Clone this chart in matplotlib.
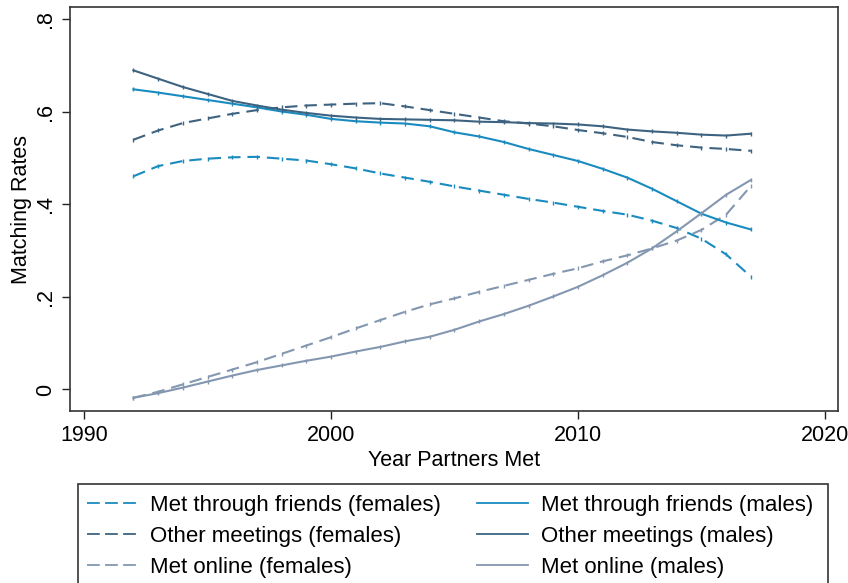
import matplotlib
matplotlib.use("Agg")
import matplotlib.pyplot as plt
from matplotlib.patches import Rectangle
from matplotlib.lines import Line2D

plt.rcParams['font.family'] = ['Liberation Sans', 'DejaVu Sans']
plt.rcParams['lines.scale_dashes'] = False

years = list(range(1992, 2018))

friends_f = [.461, .483, .494, .499, .502, .503, .499, .495, .487, .478, .467,
             .458, .449, .439, .430, .421, .412, .404, .395, .386, .378, .365,
             .349, .326, .292, .244]
friends_m = [.649, .642, .634, .626, .618, .610, .601, .594, .585, .580, .577,
             .575, .569, .556, .547, .535, .520, .507, .494, .477, .458, .434,
             .407, .380, .361, .346]
other_f = [.540, .560, .576, .586, .596, .604, .610, .614, .616, .618, .619,
           .612, .604, .596, .588, .580, .575, .569, .561, .554, .546, .535,
           .528, .523, .520, .516]
other_m = [.690, .672, .654, .639, .624, .614, .605, .598, .592, .588, .585,
           .584, .583, .582, .579, .578, .576, .575, .573, .569, .562, .558,
           .555, .551, .549, .553]
online_f = [-.018, -.005, .011, .027, .043, .059, .077, .095, .113, .132, .150,
            .168, .184, .197, .211, .224, .237, .250, .262, .277, .290, .305,
            .322, .345, .378, .440]
online_m = [-.018, -.008, .004, .017, .030, .042, .052, .062, .071, .082, .092,
            .104, .114, .129, .147, .163, .181, .201, .222, .247, .274, .305,
            .342, .381, .421, .453]

labels = ["Met through friends (females)", "Other meetings (females)",
          "Met online (females)", "Met through friends (males)",
          "Other meetings (males)", "Met online (males)"]

c_friends = "#1a8bbf"
c_other = "#3d6381"
c_online = "#8497b0"

FS = 15.5
LFS = 16

fig = plt.figure(figsize=(8.48, 5.83), dpi=100)
ax = fig.add_axes([70/848, 1-411/583, (838-70)/848, (411-7)/583])

series = [
    (friends_f, c_friends, True),
    (other_f, c_other, True),
    (online_f, c_online, True),
    (friends_m, c_friends, False),
    (other_m, c_other, False),
    (online_m, c_online, False),
]
handles = []
for (vals, col, dashed), lab in zip(series, labels):
    if dashed:
        ax.plot(years, vals, color=col, lw=1.5, dashes=(9, 5),
                marker='|', ms=3.5, mew=1, label=lab)
        handles.append(Line2D([], [], color=col, lw=1.3, dashes=(9.2, 3.8)))
    else:
        ax.plot(years, vals, color=col, lw=1.5,
                marker='|', ms=3.5, mew=1, label=lab)
        handles.append(Line2D([], [], color=col, lw=1.3, ls='-'))

ax.set_xlim(1989.43, 2020.53)
ax.set_ylim(-0.0466, 0.827)
ax.set_xticks([1990, 2000, 2010, 2020])
ax.set_yticks([0, .2, .4, .6, .8])
ax.set_yticklabels(["0", ".2", ".4", ".6", ".8"], rotation=90, va='center')
ax.tick_params(axis='both', direction='out', length=6, width=1, colors='#222222',
               labelsize=FS, labelcolor='black', pad=4)
for s in ax.spines.values():
    s.set_linewidth(1.2)
    s.set_color('#333333')
ax.set_xlabel("Year Partners Met", fontsize=FS, labelpad=3)
ax.set_ylabel("Matching Rates", fontsize=FS, labelpad=2)

# legend frame (extends beyond bottom of figure)
fig.patches.append(Rectangle((78/848, -0.1), (828-78)/848, 0.1 + 1-484/583,
                             transform=fig.transFigure, fill=False,
                             edgecolor='#333333', lw=1.2))
leg = fig.legend(handles, labels, ncol=2, loc='upper left',
                 bbox_to_anchor=(87/848, 1-495/583), frameon=False,
                 fontsize=LFS, handlelength=2.3, handletextpad=0.55,
                 columnspacing=1.62, labelspacing=0.45, borderaxespad=0,
                 borderpad=0)

fig.savefig("out.png", dpi=100)
